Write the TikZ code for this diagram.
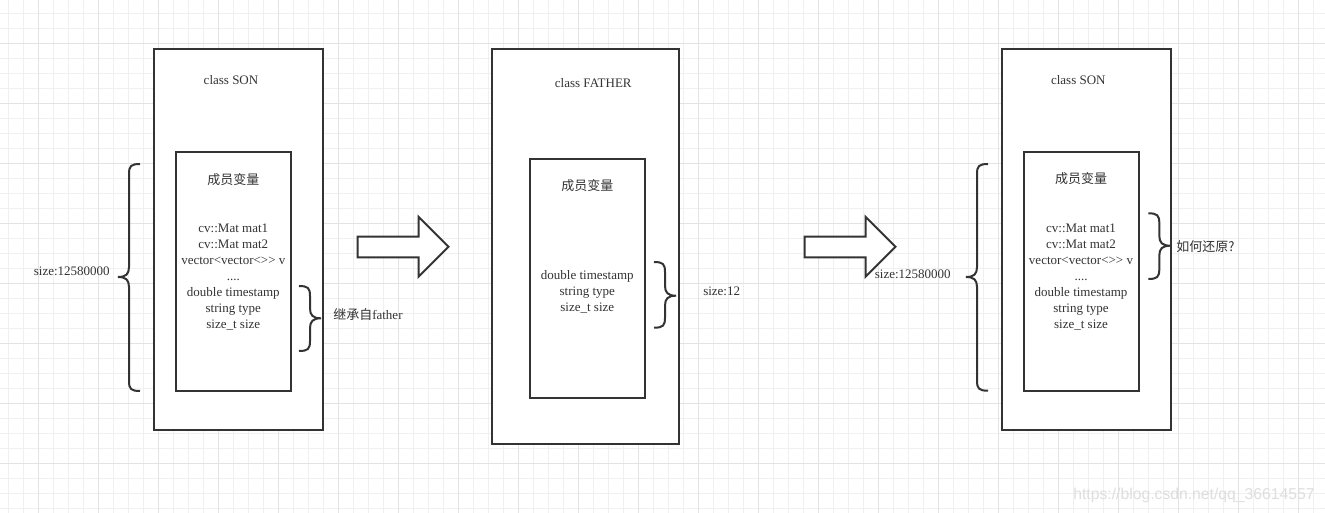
\documentclass[tikz,border=0pt]{standalone}
\usepackage{fontspec}
\setmainfont{Liberation Serif}
\newfontfamily\cjk{Noto Sans CJK SC}
\newfontfamily\wmfont{Liberation Sans}
\usepackage{tikz}
\usetikzlibrary{positioning,fit}
\definecolor{ink}{HTML}{333333}
\definecolor{gridlo}{HTML}{F0F0F0}
\definecolor{gridhi}{HTML}{E3E3E3}
\definecolor{wm}{HTML}{DEDEDE}
\newcommand{\txt}{\fontsize{9.75}{12}\selectfont}
\newcommand{\elided}{....}
% curly brace, tip to the left: #1 tip x, #2 top y, #3 bottom y, #4 tip y
\newcommand{\curlyleft}[4]{%
  \draw[curly] ({#1+22},#2) .. controls ({#1+13},#2) and ({#1+11},{#2+2}) .. ({#1+11},{#2+10})
    -- ({#1+11},{#4-10}) .. controls ({#1+11},{#4-3}) and ({#1+8},#4) .. (#1,#4)
    .. controls ({#1+8},#4) and ({#1+11},{#4+3}) .. ({#1+11},{#4+10})
    -- ({#1+11},{#3-10}) .. controls ({#1+11},{#3-2}) and ({#1+13},#3) .. ({#1+22},#3);}
% curly brace, tip to the right: #1 open x, #2 top y, #3 bottom y, #4 tip y
\newcommand{\curlyright}[4]{%
  \draw[curly] (#1,#2) .. controls ({#1+9},#2) and ({#1+11},{#2+2}) .. ({#1+11},{#2+10})
    -- ({#1+11},{#4-10}) .. controls ({#1+11},{#4-3}) and ({#1+14},#4) .. ({#1+22},#4)
    .. controls ({#1+14},#4) and ({#1+11},{#4+3}) .. ({#1+11},{#4+10})
    -- ({#1+11},{#3-10}) .. controls ({#1+11},{#3-2}) and ({#1+9},#3) .. (#1,#3);}
\tikzset{
  classbox/.style = {draw=ink, line width=1.5pt, fill=white, inner sep=0pt},
  membox/.style   = {draw=ink, line width=1.5pt, fill=white, inner sep=0pt},
  lbl/.style      = {font=\txt, text=ink, inner sep=0pt},
  zh/.style       = {font=\txt\cjk, text=ink, inner sep=0pt},
  curly/.style    = {draw=ink, line width=1.5pt},
  fatarrow/.style = {draw=ink, line width=1.5pt, fill=white, line join=miter},
  gridline/.style = {draw=#1, line width=0.75pt},
}
\begin{document}
\begin{tikzpicture}[x=0.75pt, y=-0.75pt]
  \useasboundingbox (0,0) rectangle (1325,513);
  \fill[white] (0,0) rectangle (1325,513);
  % background grid
  \foreach \i in {0,...,87} \draw[gridline=gridlo] ({8.3+15*\i},0) -- ({8.3+15*\i},513);
  \foreach \j in {0,...,33} \draw[gridline=gridlo] (0,{13.3+15*\j}) -- (1325,{13.3+15*\j});
  \foreach \i in {0,...,21} \draw[gridline=gridhi] ({38.3+60*\i},0) -- ({38.3+60*\i},513);
  \foreach \j in {0,...,7} \draw[gridline=gridhi] (0,{43.3+60*\j}) -- (1325,{43.3+60*\j});

  % class SON (before)
  \node[classbox, fit={(154,49) (323,430)}] (sonA) {};
  \node[membox, fit={(175.7,152) (291,390.7)}] (sonAvars) {};
  \node[lbl] (sonAname) at (231,80) {class SON};
  \node[zh] (sonAhead) at (233.3,179.3) {成员变量};
  \foreach \ln [count=\k from 0] in {cv::Mat mat1, cv::Mat mat2, vector<vector<>{}> v, \elided, double timestamp, string type, size\_t size}
    \node[lbl, anchor=base] (sonAm\k) at (233.3,{232.7+16*\k}) {\ln};
  \curlyleft{118}{164}{391}{277}
  \node[lbl, anchor=east] (sonAsize) at (110,271.7) {size:12580000};
  \curlyright{299}{286}{351}{318.3}
  \node[zh, anchor=west] (sonAinh) at (333,314.3) {继承自\rmfamily father};

  \foreach \ax in {357.5, 804.5}
    \draw[fatarrow] (\ax,236.7) -- ({\ax+61},236.7) -- ({\ax+61},216.7) -- ({\ax+91},246.7)
      -- ({\ax+61},276.7) -- ({\ax+61},257.3) -- (\ax,257.3) -- cycle;

  % class FATHER
  \node[classbox, fit={(491.7,49) (679.3,444)}] (father) {};
  \node[membox, fit={(529.7,158.7) (645.3,398)}] (fathervars) {};
  \node[lbl] (fathername) at (593.3,83.3) {class FATHER};
  \node[zh] (fatherhead) at (587.3,185.7) {成员变量};
  \foreach \ln [count=\k from 0] in {double timestamp, string type, size\_t size}
    \node[lbl, anchor=base] (fatherm\k) at (587.3,{279.5+16*\k}) {\ln};
  \curlyright{654}{262}{327.7}{295.7}
  \node[lbl, anchor=west] (fathersize) at (703,291.7) {size:12};

  % class SON (after)
  \node[classbox, fit={(1001.7,49) (1170.7,430)}] (sonB) {};
  \node[membox, fit={(1023.7,151.7) (1138.7,390.7)}] (sonBvars) {};
  \node[lbl] (sonBname) at (1078.3,80) {class SON};
  \node[zh] (sonBhead) at (1081,178.3) {成员变量};
  \foreach \ln [count=\k from 0] in {cv::Mat mat1, cv::Mat mat2, vector<vector<>{}> v, \elided, double timestamp, string type, size\_t size}
    \node[lbl, anchor=base] (sonBm\k) at (1081,{232.2+16*\k}) {\ln};
  \curlyleft{966}{164}{390.7}{277}
  \node[lbl, anchor=east] (sonBsize) at (951,274.7) {size:12580000};
  \curlyright{1148.3}{213.3}{279}{245.7}
  \node[zh, anchor=west] (sonBask) at (1176,246.5) {如何还原?};

  \node[font=\wmfont\fontsize{11.8}{12}\selectfont, text=wm, anchor=east, inner sep=0pt] (wmark) at (1315,495) {https://blog.csdn.net/qq\_36614557};
\end{tikzpicture}
\end{document}
